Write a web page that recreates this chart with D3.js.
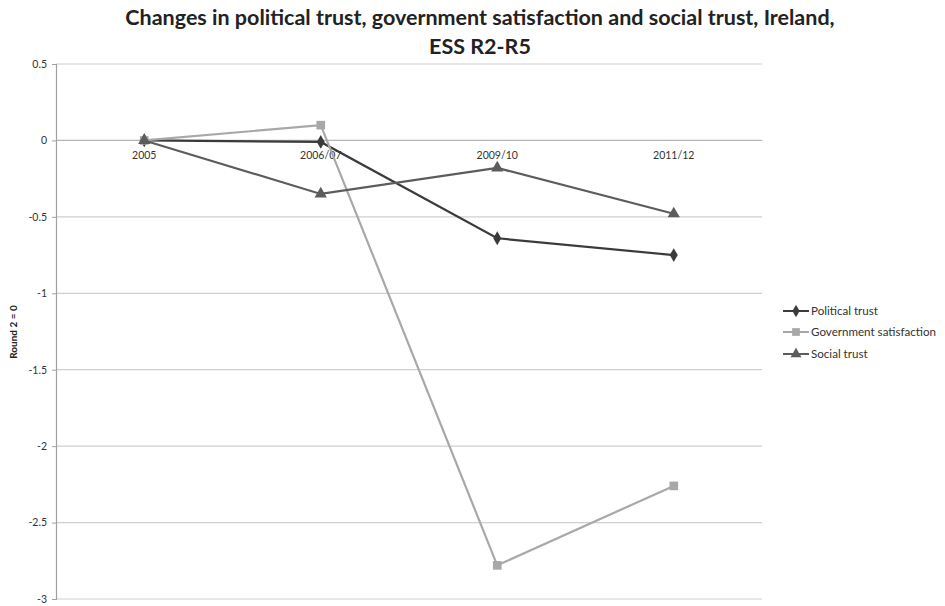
<!DOCTYPE html>
<html>
<head>
<meta charset="utf-8">
<script src="https://cdn.jsdelivr.net/npm/d3@7"></script>
<style>
  body { margin: 0; background: #fff; }
  text { font-family: Lato, "Open Sans", sans-serif; }
</style>
</head>
<body>
<div id="chart"></div>
<script>
const categories = ["2005", "2006/07", "2009/10", "2011/12"]
const politicalTrust = [0, -0.01, -0.64, -0.75]
const govSatisfaction = [0, 0.10, -2.78, -2.26]
const socialTrust = [0, -0.35, -0.18, -0.48]
const yTicks = [0.5, 0, -0.5, -1, -1.5, -2, -2.5, -3]

const series = [
    {name: "Political trust", values: politicalTrust, color: "#3b3b3b", symbol: d3.symbolDiamond, size: 55},
    {name: "Government satisfaction", values: govSatisfaction, color: "#a8a8a8", symbol: d3.symbolSquare, size: 75},
    {name: "Social trust", values: socialTrust, color: "#5c5c5c", symbol: d3.symbolTriangle, size: 65}
]

const W = 945, H = 606
const svg = d3.select("#chart").append("svg")
    .attr("width", W)
    .attr("height", H)

const x = d3.scalePoint()
    .domain(categories)
    .range([56, 762])
    .padding(0.5)

const y = d3.scaleLinear()
    .domain([-3, 0.5])
    .range([599, 64])

// gridlines
svg.append("g")
    .selectAll("line")
    .data(yTicks)
    .join("line")
    .attr("x1", 56)
    .attr("x2", 762)
    .attr("y1", d => y(d))
    .attr("y2", d => y(d))
    .attr("stroke", d => d == 0 ? "#b5b5b5" : "#cfcfcf")
    .attr("stroke-width", 1.2)

// y axis
const yAxis = svg.append("g")
    .attr("transform", "translate(56,0)")
    .call(d3.axisLeft(y).tickValues(yTicks).tickSize(4).tickFormat(d => String(d)))
yAxis.select(".domain").attr("stroke", "#a0a0a0").attr("stroke-width", 1.2)
yAxis.selectAll(".tick line").attr("stroke", "#a0a0a0")
yAxis.selectAll(".tick text")
    .attr("x", -9)
    .style("font-size", "10.5px")
    .style("font-family", "Lato, sans-serif")
    .attr("fill", "#333")

// category labels under the zero line
svg.append("g")
    .selectAll("text")
    .data(categories)
    .join("text")
    .attr("x", d => x(d))
    .attr("y", y(0) + 19)
    .attr("text-anchor", "middle")
    .style("font-size", "10.5px")
    .attr("fill", "#333")
    .text(d => d)

// y axis label
svg.append("text")
    .attr("transform", "translate(17,332) rotate(-90)")
    .attr("text-anchor", "middle")
    .style("font-size", "10px")
    .style("font-weight", "bold")
    .attr("fill", "#222")
    .text("Round 2 = 0")

// lines
const line = d3.line()
    .x((d, i) => x(categories[i]))
    .y(d => y(d))

series.forEach(s => {
    svg.append("path")
        .datum(s.values)
        .attr("fill", "none")
        .attr("stroke", s.color)
        .attr("stroke-width", 2.2)
        .attr("d", line)
    svg.append("g")
        .selectAll("path")
        .data(s.values)
        .join("path")
        .attr("transform", (d, i) => `translate(${x(categories[i])},${y(d)})`)
        .attr("d", d3.symbol().type(s.symbol).size(s.size))
        .attr("fill", s.color)
})

// legend
const legend = svg.append("g")
const legendY = [311, 332, 354]
series.forEach((s, i) => {
    const g = legend.append("g").attr("transform", `translate(783,${legendY[i]})`)
    g.append("line")
        .attr("x1", 0).attr("x2", 26)
        .attr("stroke", s.color)
        .attr("stroke-width", 2)
    g.append("path")
        .attr("transform", "translate(13,0)")
        .attr("d", d3.symbol().type(s.symbol).size(s.size * 0.8))
        .attr("fill", s.color)
    g.append("text")
        .attr("x", 28)
        .attr("y", 4)
        .style("font-size", "11.6px")
        .attr("fill", "#333")
        .text(s.name)
})

// title
const title = svg.append("text")
    .attr("text-anchor", "middle")
    .style("font-size", "21.5px")
    .style("font-weight", "bold")
    .attr("fill", "#222")
title.append("tspan").attr("x", 480).attr("y", 25)
    .text("Changes in political trust, government satisfaction and social trust, Ireland,")
title.append("tspan").attr("x", 480).attr("y", 54)
    .text("ESS R2-R5")
</script>
</body>
</html>
